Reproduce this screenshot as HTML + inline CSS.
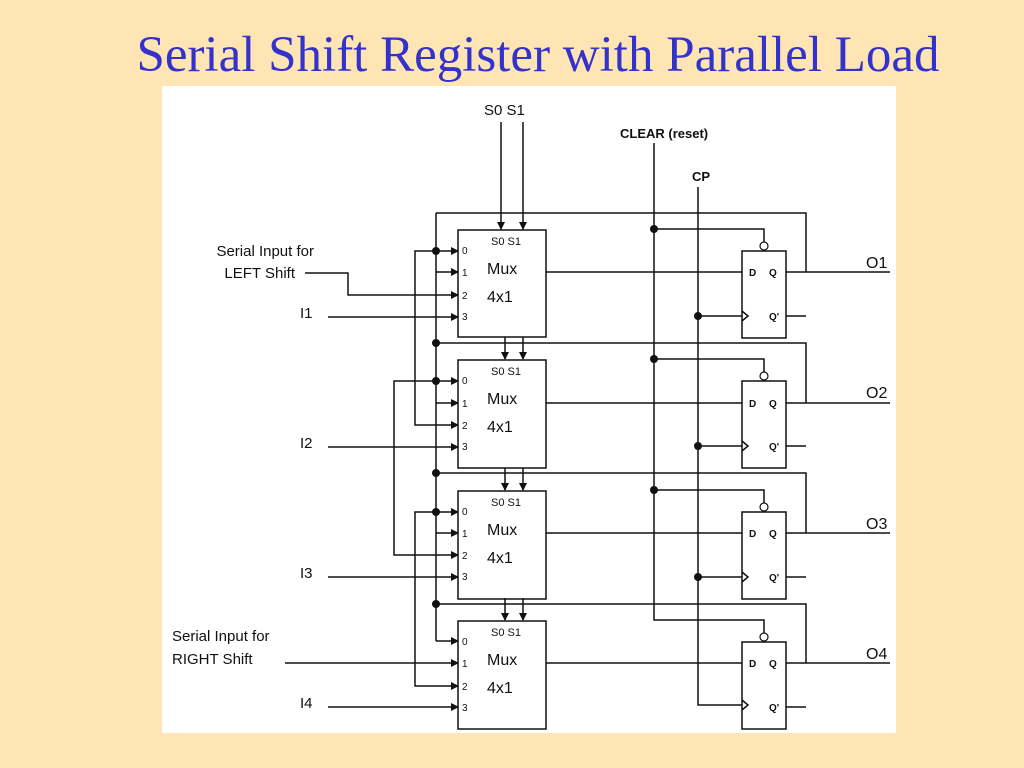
<!DOCTYPE html>
<html><head><meta charset="utf-8"><style>
html,body{margin:0;padding:0;background:#ffe5b4;}
svg{display:block}
</style></head><body>
<svg width="1024" height="768" viewBox="0 0 1024 768" xmlns="http://www.w3.org/2000/svg" font-family="Liberation Sans, sans-serif">
<defs>
<marker id="a" markerWidth="8" markerHeight="8" refX="7" refY="4" orient="auto" markerUnits="userSpaceOnUse">
<path d="M0,0 L8,4 L0,8 z" fill="#111"/></marker>
</defs>
<rect width="1024" height="768" fill="#ffe5b4"/>
<text x="538" y="71" text-anchor="middle" font-family="Liberation Serif, serif" font-size="51" fill="#3333cc">Serial Shift Register with Parallel Load</text>
<rect x="162" y="86" width="734" height="647" fill="#fff"/>
<g stroke="#111" stroke-width="1.5" fill="none">
<line x1="501" y1="122" x2="501" y2="229" marker-end="url(#a)"/>
<line x1="523" y1="122" x2="523" y2="229" marker-end="url(#a)"/>
<line x1="505" y1="337" x2="505" y2="359" marker-end="url(#a)"/>
<line x1="523" y1="337" x2="523" y2="359" marker-end="url(#a)"/>
<line x1="505" y1="468" x2="505" y2="490" marker-end="url(#a)"/>
<line x1="523" y1="468" x2="523" y2="490" marker-end="url(#a)"/>
<line x1="505" y1="598" x2="505" y2="620" marker-end="url(#a)"/>
<line x1="523" y1="598" x2="523" y2="620" marker-end="url(#a)"/>
<polyline points="654,143 654,620 764,620 764,633"/>
<polyline points="698,187 698,705 742,705"/>
<line x1="436" y1="213" x2="436" y2="641"/>
<polyline points="436,251 415,251 415,425 458,425" marker-end="url(#a)"/>
<polyline points="436,381 394,381 394,555 458,555" marker-end="url(#a)"/>
<polyline points="436,512 415,512 415,686 458,686" marker-end="url(#a)"/>
<polyline points="305,273 348,273 348,295 458,295" marker-end="url(#a)"/>
<line x1="285" y1="663" x2="458" y2="663" marker-end="url(#a)"/>
</g>
<g stroke="#111" stroke-width="1.5" fill="none">
<rect x="458" y="230" width="88" height="107"/>
<line x1="436" y1="251" x2="458" y2="251" marker-end="url(#a)"/>
<line x1="436" y1="272" x2="458" y2="272" marker-end="url(#a)"/>
<line x1="328" y1="317" x2="458" y2="317" marker-end="url(#a)"/>
<line x1="546" y1="272" x2="742" y2="272"/>
<rect x="742" y="251" width="44" height="87"/>
<polyline points="654,229 764,229 764,242"/>
<line x1="698" y1="316" x2="742" y2="316"/>
<path d="M742,311 L748,316 L742,321"/>
<line x1="786" y1="316" x2="806" y2="316"/>
<line x1="786" y1="272" x2="890" y2="272"/>
<polyline points="436,213 806,213 806,272"/>
<rect x="458" y="360" width="88" height="108"/>
<line x1="436" y1="381" x2="458" y2="381" marker-end="url(#a)"/>
<line x1="436" y1="403" x2="458" y2="403" marker-end="url(#a)"/>
<line x1="328" y1="447" x2="458" y2="447" marker-end="url(#a)"/>
<line x1="546" y1="403" x2="742" y2="403"/>
<rect x="742" y="381" width="44" height="87"/>
<polyline points="654,359 764,359 764,372"/>
<line x1="698" y1="446" x2="742" y2="446"/>
<path d="M742,441 L748,446 L742,451"/>
<line x1="786" y1="446" x2="806" y2="446"/>
<line x1="786" y1="403" x2="890" y2="403"/>
<polyline points="436,343 806,343 806,403"/>
<rect x="458" y="491" width="88" height="108"/>
<line x1="436" y1="512" x2="458" y2="512" marker-end="url(#a)"/>
<line x1="436" y1="533" x2="458" y2="533" marker-end="url(#a)"/>
<line x1="328" y1="577" x2="458" y2="577" marker-end="url(#a)"/>
<line x1="546" y1="533" x2="742" y2="533"/>
<rect x="742" y="512" width="44" height="87"/>
<polyline points="654,490 764,490 764,503"/>
<line x1="698" y1="577" x2="742" y2="577"/>
<path d="M742,572 L748,577 L742,582"/>
<line x1="786" y1="577" x2="806" y2="577"/>
<line x1="786" y1="533" x2="890" y2="533"/>
<polyline points="436,473 806,473 806,533"/>
<rect x="458" y="621" width="88" height="108"/>
<line x1="436" y1="641" x2="458" y2="641" marker-end="url(#a)"/>
<line x1="328" y1="707" x2="458" y2="707" marker-end="url(#a)"/>
<line x1="546" y1="663" x2="742" y2="663"/>
<rect x="742" y="642" width="44" height="87"/>
<path d="M742,700 L748,705 L742,710"/>
<line x1="786" y1="707" x2="806" y2="707"/>
<line x1="786" y1="663" x2="890" y2="663"/>
<polyline points="436,604 806,604 806,663"/>
</g>
<g fill="#fff" stroke="#111" stroke-width="1.2">
<circle cx="764" cy="246" r="4"/><circle cx="764" cy="376" r="4"/><circle cx="764" cy="507" r="4"/><circle cx="764" cy="637" r="4"/>
</g>
<g fill="#111">
<circle cx="436" cy="251" r="4"/><circle cx="436" cy="343" r="4"/><circle cx="436" cy="381" r="4"/><circle cx="436" cy="473" r="4"/><circle cx="436" cy="512" r="4"/><circle cx="436" cy="604" r="4"/>
<circle cx="654" cy="229" r="4"/><circle cx="654" cy="359" r="4"/><circle cx="654" cy="490" r="4"/>
<circle cx="698" cy="316" r="4"/><circle cx="698" cy="446" r="4"/><circle cx="698" cy="577" r="4"/>
</g>
<g fill="#111" font-size="15">
<text x="484" y="115">S0 S1</text>
<text x="620" y="138" font-weight="bold" font-size="13">CLEAR (reset)</text>
<text x="692" y="181" font-weight="bold" font-size="13">CP</text>
<text x="314" y="256" text-anchor="end">Serial Input for</text>
<text x="295" y="278" text-anchor="end">LEFT Shift</text>
<text x="172" y="641">Serial Input for</text>
<text x="172" y="664">RIGHT Shift</text>
<text x="300" y="318">I1</text>
<text x="300" y="448">I2</text>
<text x="300" y="578">I3</text>
<text x="300" y="708">I4</text>
<text x="866" y="268" font-size="16">O1</text>
<text x="866" y="398" font-size="16">O2</text>
<text x="866" y="529" font-size="16">O3</text>
<text x="866" y="659" font-size="16">O4</text>
</g>
<g fill="#111" font-size="10">
<text x="462" y="254">0</text><text x="462" y="276">1</text><text x="462" y="299">2</text><text x="462" y="320">3</text>
<text x="462" y="384">0</text><text x="462" y="407">1</text><text x="462" y="429">2</text><text x="462" y="450">3</text>
<text x="462" y="515">0</text><text x="462" y="537">1</text><text x="462" y="559">2</text><text x="462" y="580">3</text>
<text x="462" y="645">0</text><text x="462" y="667">1</text><text x="462" y="690">2</text><text x="462" y="711">3</text>
</g>
<g fill="#111" font-size="11">
<text x="491" y="245">S0 S1</text><text x="491" y="375">S0 S1</text><text x="491" y="506">S0 S1</text><text x="491" y="636">S0 S1</text>
</g>
<g fill="#111" font-size="16">
<text x="487" y="274">Mux</text><text x="487" y="302">4x1</text>
<text x="487" y="404">Mux</text><text x="487" y="432">4x1</text>
<text x="487" y="535">Mux</text><text x="487" y="563">4x1</text>
<text x="487" y="665">Mux</text><text x="487" y="693">4x1</text>
</g>
<g fill="#111" font-size="10" font-weight="bold">
<text x="749" y="276">D</text><text x="769" y="276">Q</text><text x="769" y="320">Q'</text>
<text x="749" y="407">D</text><text x="769" y="407">Q</text><text x="769" y="450">Q'</text>
<text x="749" y="537">D</text><text x="769" y="537">Q</text><text x="769" y="581">Q'</text>
<text x="749" y="667">D</text><text x="769" y="667">Q</text><text x="769" y="711">Q'</text>
</g>
</svg>
</body></html>
